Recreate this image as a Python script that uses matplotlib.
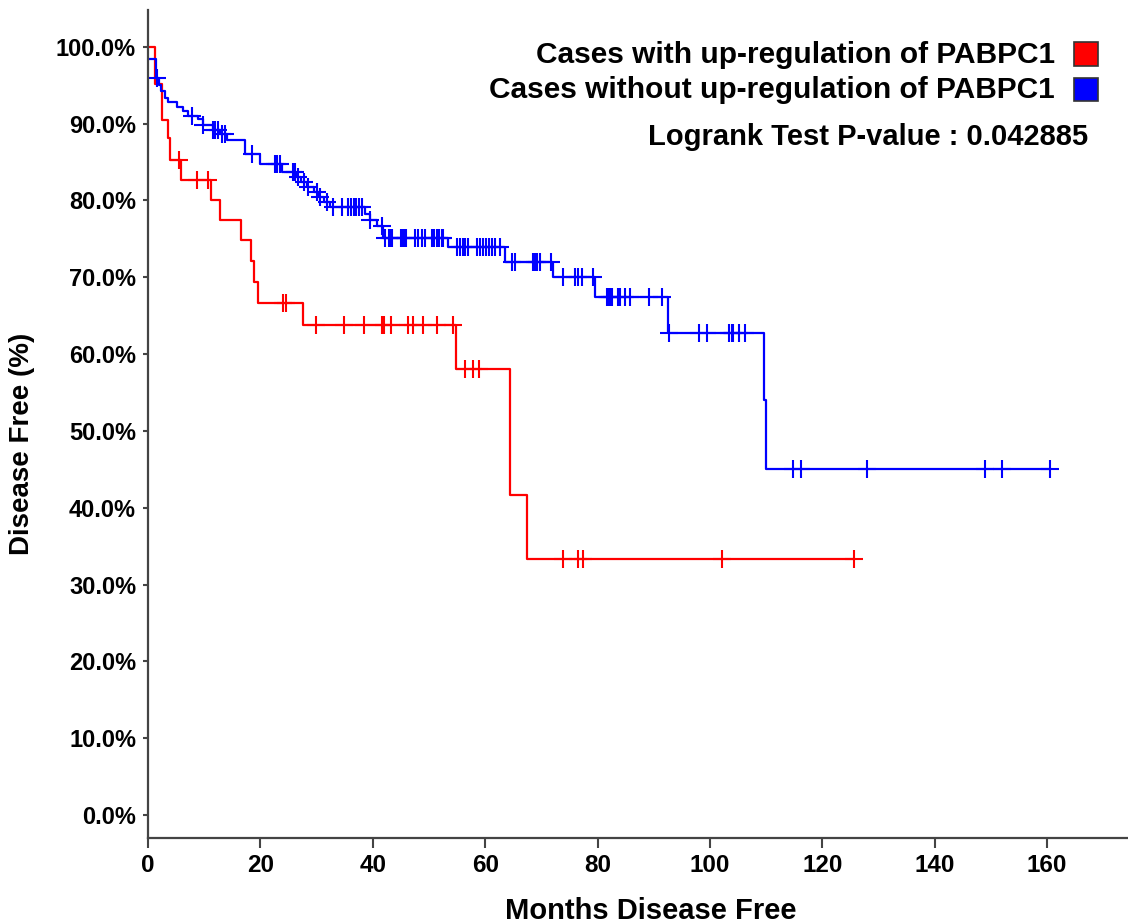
import numpy as np
import matplotlib
matplotlib.use("Agg")
import matplotlib.pyplot as plt
from matplotlib.patches import Rectangle

plt.rcParams['font.family'] = ['Liberation Sans', 'DejaVu Sans']
plt.rcParams['font.weight'] = 'bold'

# 上调组 (红)
up_t = [0, 1.3, 2.5, 3.5, 3.9, 5.9, 11.3, 12.9, 16.5, 18.3, 18.9, 19.5,
        27.6, 54.9, 64.4, 67.5]
up_s = [100, 95.2, 90.5, 88.1, 85.3, 82.7, 80.1, 77.5, 74.8, 72.1, 69.4,
        66.7, 63.8, 58.0, 41.6, 33.3]
up_cens = [5.5, 8.7, 10.7, 24.0, 24.6, 29.9, 34.9, 38.4, 41.6, 42.0, 43.2,
           46.3, 47.1, 49.0, 51.5, 54.2, 56.5, 57.8, 58.9, 73.9, 76.6, 77.4,
           102.1, 125.6]

# 非上调组 (蓝)
no_t = [0, 1.5, 1.9, 2.4, 3.0, 3.6, 5.2, 6.2, 7.2, 8.9, 9.8, 11.6, 12.8,
        14.0, 17.3, 19.9, 23.8, 26.4, 27.3, 28.3, 29.5, 30.4, 31.4, 32.3,
        38.6, 39.5, 40.7, 41.8, 53.4, 63.5, 72.1, 79.5, 92.6, 109.6, 110.0]
no_s = [98.4, 96.0, 95.0, 94.2, 93.3, 92.8, 92.2, 91.6, 91.0, 90.6, 89.8,
        89.2, 88.7, 87.9, 86.0, 84.8, 83.7, 83.0, 82.4, 81.8, 81.1, 80.4,
        79.8, 79.2, 78.3, 77.5, 76.7, 75.1, 74.0, 72.0, 70.0, 67.4, 62.8,
        54.0, 45.0]
no_cens = [1.6, 7.8, 9.8, 11.6, 11.9, 12.5, 13.2, 13.7, 18.5, 22.6, 23.0,
           23.5, 25.8, 26.2, 26.7, 27.8, 28.4, 30.0, 30.6, 31.8, 33.0, 34.5,
           35.6, 36.1, 36.6, 37.1, 37.5, 38.1, 39.5, 41.6, 42.2, 42.8, 43.1,
           43.4, 45.1, 45.4, 45.7, 46.0, 47.5, 48.1, 48.7, 49.3, 50.5, 50.9,
           51.4, 51.8, 52.3, 52.5, 55.0, 55.5, 56.0, 56.5, 56.9, 58.5, 59.1,
           59.7, 60.1, 60.7, 61.2, 61.7, 62.6, 64.7, 65.3, 68.6, 68.9, 69.2,
           69.8, 71.8, 73.8, 76.0, 76.5, 77.2, 79.2, 81.6, 81.9, 82.2, 82.5,
           83.7, 84.0, 84.9, 85.8, 89.1, 91.5, 92.7, 98.1, 99.5, 103.4,
           103.9, 104.1, 105.2, 106.2, 114.7, 116.2, 128.0, 148.9, 152.0,
           160.5]

y_ticks = np.arange(0, 101, 10)
x_ticks = np.arange(0, 161, 20)

fig = plt.figure(figsize=(11.28, 9.24), dpi=100)
ax = fig.add_axes([148 / 1128, 86 / 924, 980 / 1128, 828 / 924])


def draw_km(t, s, cens, color):
    t = list(t) + [max(cens)]
    s = list(s) + [s[-1]]
    ax.step(t, s, where='post', color=color, lw=1.6)
    idx = np.searchsorted(np.array(t[:-1]), cens, side='right') - 1
    ax.plot(cens, np.array(s)[idx], ls='none', marker='+', color=color,
            ms=12.5, mew=1.5)


draw_km(up_t, up_s, up_cens, '#FF0000')
draw_km(no_t, no_s, no_cens, '#0000FF')

ax.set_xlim(0, 174.4)
ax.set_ylim(-3.0, 104.8)
ax.set_xticks(x_ticks)
ax.set_yticks(y_ticks)
ax.set_yticklabels([f"{v:.1f}%" for v in y_ticks])
for sp in ['top', 'right']:
    ax.spines[sp].set_visible(False)
for sp in ['left', 'bottom']:
    ax.spines[sp].set_color('#444444')
    ax.spines[sp].set_linewidth(1.6)
ax.tick_params(axis='x', length=7, width=1.5, color='#444444', labelsize=17.5, pad=4.5)
ax.tick_params(axis='y', length=3.6, width=1.5, color='#444444', labelsize=17, pad=5)

ax.set_xlabel("Months Disease Free", fontsize=21, fontweight='bold')
ax.set_ylabel("Disease Free (%)", fontsize=20, fontweight='bold')
ax.xaxis.set_label_coords(0.513, -0.071)
ax.yaxis.set_label_coords(-0.115, 0.476)

# 图例
fig.text(1055 / 1128, 1 - 55 / 924, "Cases with up-regulation of PABPC1",
         ha='right', va='center', fontsize=21.5, fontweight='bold')
fig.text(1055 / 1128, 1 - 90 / 924, "Cases without up-regulation of PABPC1",
         ha='right', va='center', fontsize=21.5, fontweight='bold')
fig.text(1088 / 1128, 1 - 137 / 924, "Logrank Test P-value : 0.042885",
         ha='right', va='center', fontsize=21, fontweight='bold')
fig.add_artist(Rectangle((1074 / 1128, 1 - 66 / 924), 24 / 1128, 24 / 924,
                         transform=fig.transFigure, fc='#FF0000', ec='#333333', lw=1.2))
fig.add_artist(Rectangle((1074 / 1128, 1 - 101 / 924), 24 / 1128, 23 / 924,
                         transform=fig.transFigure, fc='#0000FF', ec='#333333', lw=1.2))

fig.savefig("out.png", dpi=100)
